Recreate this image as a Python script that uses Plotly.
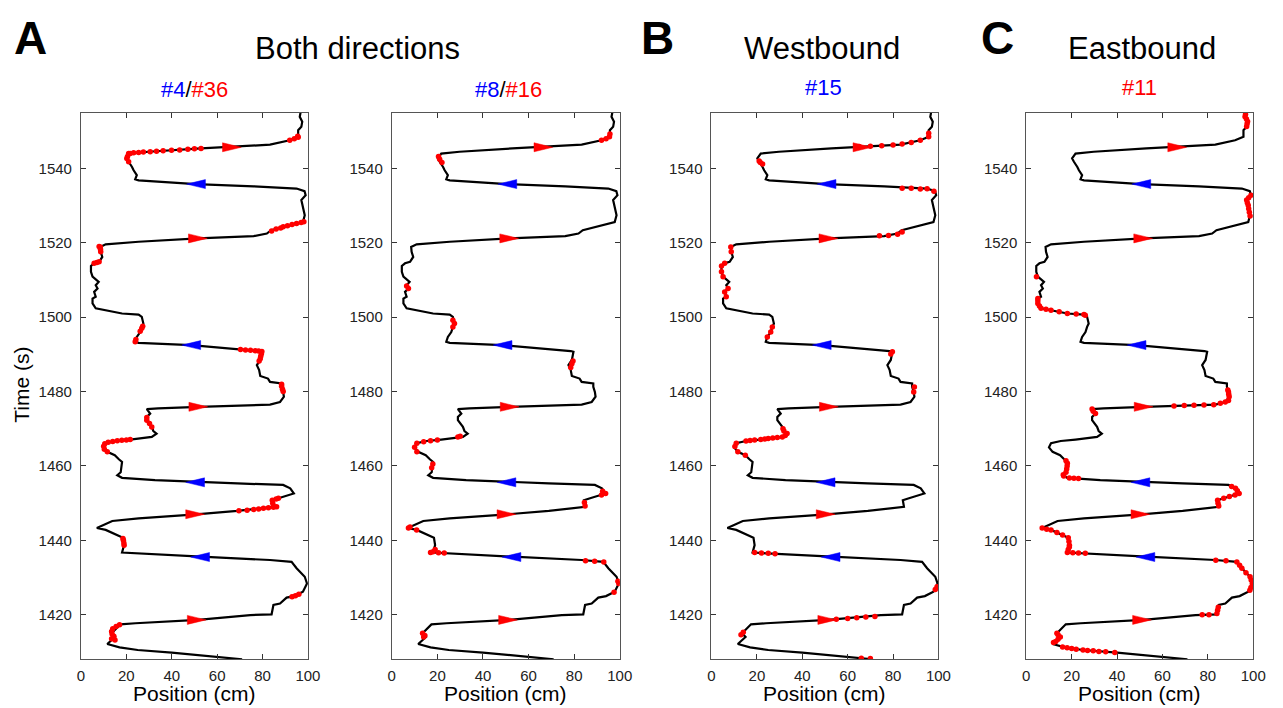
import plotly.graph_objects as go

# ---------------- data ----------------
# animal trajectory (position in cm, time in s)
traj_pos = [71, 54, 40, 25, 17, 11.6, 13, 15, 13.5, 15.5, 17.4, 24, 51.5, 74.6, 84, 84.8, 87.7, 90.6, 94, 97.8,
            99.6, 98.6, 95, 92.8, 83.3, 52.9, 18.1, 19, 18.5, 10.9, 7.0, 13.8, 25.4, 50.7, 68.9, 84.8, 84.3, 87,
            92, 93.8, 92.2, 89.1, 68.9, 51.5, 32.6, 18.1, 16, 17.5, 18.1, 16.7, 14.9, 11.6, 10, 10.9, 15.2, 21.7,
            31.2, 33.3, 31.9, 31.2, 29, 29, 30.5, 29, 34, 51.9, 83.3, 87.7, 89.4, 89.1, 88.4, 88.4, 83.3, 82.4,
            79, 78.5, 77.5, 79, 79.7, 78.5, 68.9, 48.6, 25.4, 23.9, 24.6, 26.1, 26.8, 27.5, 26.8, 25.4, 18.1,
            10.9, 6.5, 5.1, 5.1, 6.5, 5.8, 7.3, 6.5, 7.8, 5.8, 5.1, 4.4, 4.4, 5.8, 8, 9.4, 8.7, 8.5, 10.9, 25.4,
            51.5, 76.1, 81.9, 83.8, 89.1, 97.8, 98.6, 97.8, 97.1, 99.0, 98.5, 95, 76.1, 50.7, 25.4, 23.9, 24.6,
            23.2, 22.5, 21, 20.2, 21.7, 29.7, 52.9, 67.4, 83.3, 92, 95.7, 95.7, 97.1, 97.5, 96.4, 96.8]
traj_time = [1408.0, 1409.0, 1409.8, 1410.5, 1411.2, 1412.1, 1412.8, 1414, 1415, 1416.2, 1417.4, 1417.7, 1418.6,
             1419.9, 1420.1, 1422.6, 1423, 1424.6, 1425, 1426.2, 1428.4, 1430.2, 1432.5, 1434.2, 1434.7, 1435.6,
             1436.7, 1438.7, 1440.7, 1442.8, 1443.3, 1445.2, 1445.9, 1447.0, 1447.9, 1449.0, 1450.8, 1451.3,
             1452.2, 1452.6, 1454.0, 1454.9, 1455.3, 1455.7, 1456.2, 1456.8, 1457.5, 1458.3, 1461.1, 1461.8,
             1462.9, 1463.8, 1465, 1466.1, 1466.7, 1467.1, 1467.8, 1468.7, 1469.4, 1470.5, 1472.3, 1473.2,
             1474.1, 1475.3, 1475.5, 1475.9, 1476.5, 1477.2, 1478.6, 1479.9, 1481.3, 1482.2, 1482.6, 1483.5,
             1484.2, 1485.8, 1487.1, 1488.5, 1490.7, 1490.9, 1491.4, 1492.5, 1493.1, 1493.4, 1494.7, 1496,
             1497.4, 1498.3, 1500.1, 1500.7, 1501.0, 1501.9, 1502.4, 1503.7, 1505, 1505.5, 1506.8, 1507.7,
             1508.6, 1509.5, 1510.4, 1510.9, 1512.2, 1513.8, 1514.5, 1514.9, 1516.2, 1517.6, 1518.9, 1519.6,
             1520.3, 1521.2, 1521.8, 1522.5, 1523.4, 1524.3, 1525.6, 1527.4, 1530.1, 1531.5, 1532.8, 1533.9,
             1534.6, 1535.2, 1535.8, 1536.8, 1537.1, 1538.2, 1539.5, 1540.4, 1541.8, 1542.7, 1544.0, 1544.5,
             1545.4, 1545.8, 1546.4, 1547.6, 1548.5, 1550.3, 1551.2, 1552.6, 1553.9, 1555.2]

# direction arrows (centre of each arrow head)
east_arrow_pos = [51, 50.3, 51.7, 51.5, 66.5]
east_arrow_time = [1418.6, 1447.0, 1475.9, 1521.2, 1545.7]
west_arrow_pos = [52.5, 50.3, 48.6, 50.7]
west_arrow_time = [1435.5, 1455.6, 1492.5, 1535.8]

# spikes, cell #4/#36 (both directions)
a1_spike_pos = [92, 94, 95.7, 95.5,
                21, 23.2, 25.4, 27.5, 30.5, 33.3, 36.2, 39.9, 43.5, 47.1, 50, 52.9,
                21, 20.2, 20.5, 21.7,
                84, 86, 88, 89.1, 91, 93, 95, 97, 98.2,
                8, 8.7, 8.6, 8.5, 5.8, 7, 8,
                26.1, 26.8, 27.2, 23.9, 24.2,
                70.3, 72.5, 74.7, 76.8, 78.3, 79.7, 79.5, 79.2, 79, 78.5,
                88.4, 88.4, 89.1, 88.8,
                31.2, 30.2, 29, 29,
                11.6, 10.3, 10, 10.5, 12, 14, 16, 18, 20, 21.7,
                84.8, 84.5, 84.3, 86, 87,
                69.6, 73.2, 76.1, 78.3, 80.4, 82.6, 84.8, 86.2,
                19, 18.9, 18.7, 18.5,
                93, 94.5, 96,
                17, 15.5, 14, 13.5, 13.7, 14.5, 13.5, 15]
a1_spike_time = [1547.6, 1548.0, 1548.4, 1548.7,
                 1544.0, 1544.2, 1544.3, 1544.4, 1544.5, 1544.6, 1544.75, 1544.9, 1545.0, 1545.15, 1545.3, 1545.4,
                 1541.8, 1542.7, 1543.2, 1544.0,
                 1523.2, 1523.7, 1524.0, 1524.3, 1524.6, 1524.9, 1525.2, 1525.5, 1525.7,
                 1519.0, 1517.6, 1518.3, 1518.9, 1514.5, 1514.7, 1514.9,
                 1496.2, 1497.0, 1497.6, 1493.4, 1494.0,
                 1491.3, 1491.2, 1491.1, 1491.0, 1490.9, 1490.8, 1490.2, 1489.5, 1488.8, 1488.2,
                 1481.4, 1482.0, 1480.0, 1480.6,
                 1470.5, 1471.4, 1472.3, 1473.0,
                 1463.8, 1464.5, 1465.3, 1466.0, 1466.4, 1466.6, 1466.75, 1466.9, 1467.0, 1467.1,
                 1449.2, 1450.0, 1450.8, 1451.1, 1451.3,
                 1447.95, 1448.1, 1448.3, 1448.45, 1448.6, 1448.75, 1448.9, 1449.0,
                 1438.7, 1439.3, 1440.0, 1440.5,
                 1424.8, 1425.1, 1425.5,
                 1417.3, 1416.8, 1416.2, 1415.5, 1414.8, 1414.2, 1413.5, 1413.2]

# spikes, cell #8/#16 (both directions)
a2_spike_pos = [92, 94, 95.5, 95.7, 22, 21, 20.5, 7.3, 6.5, 26.8, 27.5, 26.8,
                78.5, 79, 79.5, 11, 10, 11, 14, 17, 20, 29, 30, 18, 17.5,
                92, 93.8, 92.5, 84.8, 84.5, 7.3, 8, 10.9, 17, 18.1, 19, 20.5, 23,
                85, 89, 93, 97.5, 99.6, 99.2, 14, 13.5, 14.5]
a2_spike_time = [1547.6, 1548.0, 1548.5, 1549.3, 1541.6, 1542.5, 1543.2, 1507.7, 1508.4, 1497.4, 1498.3, 1499.2,
                 1486.5, 1487.5, 1488.2, 1463.8, 1465, 1466.1, 1466.5, 1466.8, 1467, 1467.8, 1468, 1460.5, 1459.5,
                 1452.2, 1452.6, 1453.2, 1449.2, 1450.2, 1443.3, 1443.6, 1442.8, 1436.75, 1436.9, 1437.5, 1436.65,
                 1436.6,
                 1434.5, 1434.35, 1434.2, 1426, 1428.4, 1429, 1414, 1415, 1414.4]

# spikes, cell #15 (westbound)
b_spike_pos = [65, 70, 75, 80, 84, 88, 92, 95.7, 95.7, 21.5, 22.5, 21, 84, 88, 92, 95, 98,
               74, 78, 82, 84, 6.5, 5.8, 7.3, 5.1, 4.4, 4.4, 5.8, 8.5, 8.7, 26.1, 26.8, 24.6,
               79.7, 79, 89.1, 89.4,
               15.2, 17, 19, 21.7, 23.5, 25, 27, 29, 31.2, 32.5, 33.3, 31.9, 31.5,
               14.9, 11.6, 10.9, 10.3,
               19, 22, 25, 28, 98.6, 99.4, 55, 60, 64, 68, 72, 13, 14, 66, 70]
b_spike_time = [1545.9, 1546.0, 1546.1, 1546.3, 1546.6, 1547.0, 1547.6, 1548.5, 1549.5, 1541.6, 1541.2, 1542,
                1534.7, 1534.65, 1534.45, 1534.55, 1533.9,
                1521.9, 1522.0, 1522.3, 1522.9, 1505.5, 1506.8, 1507.7, 1510.9, 1512.2, 1513.8, 1514.5, 1518.9,
                1517.6, 1496, 1497.4, 1494.7,
                1490.7, 1490.1, 1479.9, 1481.2,
                1466.7, 1466.85, 1467.0, 1467.1, 1467.25, 1467.35, 1467.5, 1467.65, 1467.8, 1468.2, 1468.7,
                1469.4, 1470.0,
                1462.9, 1463.8, 1466.1, 1465.2,
                1436.75, 1436.6, 1436.5, 1436.4, 1426.8, 1427.5, 1418.8, 1419.0, 1419.2, 1419.4, 1419.5,
                1414.6, 1415.3, 1408.3, 1408.2]

# spikes, cell #11 (eastbound)
c_spike_pos = [97.1, 97.3, 97.5, 97, 96.4, 96.6,
               98.6, 98.3, 98, 97.8, 97.4, 97.1, 98, 99,
               4.5,
               26, 25.4, 22, 18.1, 14.5, 10.9, 8.7, 6.5, 5.8, 5.1, 5.1, 5.1,
               30.5, 29.5, 29,
               65.1, 69.6, 73.9, 78.3, 82.6, 85.5, 87.7, 89.1,
               89.4, 89.2, 89.1, 88.8,
               23, 21, 19, 16.5, 16.3, 17.5, 17.8, 18, 18.1, 17.5,
               84.8, 84.5, 84.3, 87, 89.5, 92, 93.8, 93, 92.2, 90.5,
               26, 23, 20.5, 18.1, 18.5, 19, 19, 18.8, 18.5, 16, 13.5, 10.9, 9, 7,
               83.5, 88, 92.8, 94, 95, 96.8, 98.6, 99.1, 99.6, 99, 98.5,
               77.5, 80.5, 84, 84.3, 84.6,
               12, 13, 14, 15, 14, 13.5,
               16, 18, 20, 22, 25, 27, 29.5, 32, 35, 39]
c_spike_time = [1551.3, 1552.0, 1552.6, 1553.3, 1553.9, 1554.6,
                1527.2, 1528.2, 1529.2, 1530.1, 1530.8, 1531.5, 1532.1, 1532.8,
                1510.9,
                1500.5, 1500.7, 1500.85, 1501.0, 1501.45, 1501.9, 1502.15, 1502.4, 1503.0, 1503.7, 1504.4, 1505.0,
                1474.1, 1474.7, 1475.3,
                1476.15, 1476.24, 1476.32, 1476.4, 1476.49, 1476.85, 1477.2, 1477.6,
                1478.6, 1479.3, 1479.9, 1480.4,
                1456.6, 1456.7, 1456.75, 1457.3, 1457.6, 1458.3, 1459.2, 1460.0, 1460.7, 1461.4,
                1449.2, 1450.0, 1450.8, 1451.3, 1451.8, 1452.2, 1452.6, 1453.3, 1454.0, 1454.5,
                1436.5, 1436.6, 1436.65, 1436.75, 1437.5, 1438.2, 1438.7, 1439.7, 1440.7, 1441.4, 1442.1, 1442.8,
                1443.0, 1443.3,
                1434.65, 1434.5, 1434.2, 1433.3, 1432.5, 1431.3, 1430.2, 1429.3, 1428.4, 1427.3, 1426.6,
                1420.0, 1420.0, 1420.3, 1421.2, 1422.0,
                1412.5, 1412.8, 1413.4, 1414.0, 1414.6, 1415.0,
                1411.3, 1411.1, 1410.9, 1410.7, 1410.5, 1410.4, 1410.3, 1410.1, 1410.0, 1409.8]

x_ticks = [0, 20, 40, 60, 80, 100]
y_ticks = [1420, 1440, 1460, 1480, 1500, 1520, 1540]

panel_spikes = [(a1_spike_pos, a1_spike_time), (a2_spike_pos, a2_spike_time),
                (b_spike_pos, b_spike_time), (c_spike_pos, c_spike_time)]

# ---------------- layout geometry ----------------
W, H = 1283, 708


def px(x):
    return x / W


def py(y):
    return 1 - y / H


x_doms = [(78, 308), (393, 624), (717, 947), (1036, 1266)]
y_top, y_bot = 112.7, 659.3
X_RANGE = (0, 100)
Y_RANGE = (1408, 1555)

# arrow-head size in screen pixels (length along x, half height)
ARROW_LEN, ARROW_HALF_H = 19, 4.5

RED = "#ff0000"
BLUE = "#0000ff"
FONT = "Liberation Sans, Arial, sans-serif"


def arrow_shapes(cx, cy, direction, dom):
    """Closed triangle outlines (with None separators) in data units."""
    sx = (X_RANGE[1] - X_RANGE[0]) / (dom[1] - dom[0])          # cm per pixel
    sy = (Y_RANGE[1] - Y_RANGE[0]) / (y_bot - y_top)            # s per pixel
    hl = ARROW_LEN / 2 * sx
    hh = ARROW_HALF_H * sy
    xs, ys = [], []
    for x, y in zip(cx, cy):
        tail, tip = x - direction * hl, x + direction * hl
        xs += [tail, tail, tip, tail, None]
        ys += [y - hh, y + hh, y, y - hh, None]
    return xs, ys


fig = go.Figure()
layout = dict(
    width=W, height=H, margin=dict(l=0, r=0, t=0, b=0),
    paper_bgcolor="white", plot_bgcolor="white", showlegend=False,
    font=dict(family=FONT, color="#222222"),
)

ann = []


def A(text, x, y, size, bold=False, color="black", angle=0):
    ann.append(dict(text=("<b>%s</b>" % text) if bold else text, x=px(x), y=py(y),
                    xref="paper", yref="paper", showarrow=False, textangle=angle,
                    font=dict(size=size, color=color, family=FONT), xanchor="center", yanchor="middle"))


for i, (sp, st) in enumerate(panel_spikes):
    n = "" if i == 0 else str(i + 1)
    xa, ya = "x" + n, "y" + n
    d = x_doms[i]
    fig.add_trace(go.Scatter(x=traj_pos, y=traj_time, mode="lines",
                             line=dict(color="black", width=2.2), xaxis=xa, yaxis=ya, hoverinfo="skip"))
    fig.add_trace(go.Scatter(x=sp, y=st, mode="markers",
                             marker=dict(color=RED, size=5.5, line=dict(width=0)), xaxis=xa, yaxis=ya))
    ex, ey = arrow_shapes(east_arrow_pos, east_arrow_time, 1, d)
    fig.add_trace(go.Scatter(x=ex, y=ey, mode="lines", fill="toself", fillcolor=RED,
                             line=dict(color=RED, width=0.5), xaxis=xa, yaxis=ya, hoverinfo="skip"))
    wx, wy = arrow_shapes(west_arrow_pos, west_arrow_time, -1, d)
    fig.add_trace(go.Scatter(x=wx, y=wy, mode="lines", fill="toself", fillcolor=BLUE,
                             line=dict(color=BLUE, width=0.5), xaxis=xa, yaxis=ya, hoverinfo="skip"))
    axcommon = dict(showline=True, linecolor="#555555", linewidth=1, mirror="ticks", ticks="inside",
                    ticklen=5, tickcolor="#333333", showgrid=False, zeroline=False,
                    tickfont=dict(size=15, family=FONT, color="#222222"))
    layout["xaxis" + n] = dict(domain=[px(d[0]), px(d[1])], range=list(X_RANGE), tickvals=x_ticks,
                               anchor=ya, ticklabelstandoff=3, **axcommon)
    layout["yaxis" + n] = dict(domain=[py(y_bot), py(y_top)], range=list(Y_RANGE), tickvals=y_ticks,
                               anchor=xa, ticklabelstandoff=5, **axcommon)
    A("Position (cm)", (d[0] + d[1]) / 2, 693, 21)

fig.update_layout(**layout)

A("Time (s)", 18, 385, 21, angle=-90)
A("A", 27, 38, 46, bold=True)
A("B", 662, 38, 46, bold=True)
A("C", 1007, 38, 46, bold=True)
A("Both directions", 358, 48, 31)
A("Westbound", 829, 48, 31)
A("Eastbound", 1153, 48, 31)
A("<span style='color:#0000ff'>#4</span>/<span style='color:#ff0000'>#36</span>", 193, 89, 22)
A("<span style='color:#0000ff'>#8</span>/<span style='color:#ff0000'>#16</span>", 511, 89, 22)
A("#15", 831, 87, 22, color=BLUE)
A("#11", 1151, 88, 22, color=RED)
fig.update_layout(annotations=ann)

# remove the browser's default 8 px page margin so the figure fills the window
fig.write_html("out.html", config={"displayModeBar": False},
               post_script="document.body.style.margin='0';")
